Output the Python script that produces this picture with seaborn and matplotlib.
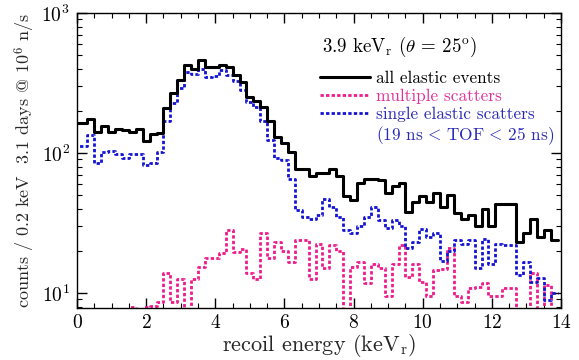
import numpy as np
import pandas as pd
import matplotlib
matplotlib.use("Agg")
import matplotlib.pyplot as plt
from matplotlib.lines import Line2D
from matplotlib.ticker import MultipleLocator, LogLocator, NullFormatter
import seaborn as sns

# bin centres (keV_r), 0.2 keV bins
bin_centers = [round(0.2 * i, 1) for i in range(70)]
bin_edges = [round(0.2 * i - 0.1, 2) for i in range(71)]

all_elastic = [165, 165, 175, 142, 155, 142, 148, 146, 142, 149,
               122, 137, 139, 208, 270, 332, 423, 397, 458, 408,
               410, 425, 412, 361, 319, 252, 235, 213, 168, 130,
               117, 102, 77, 77, 68, 72, 72, 77, 68, 49,
               46, 61, 65, 65, 64, 52, 58, 61, 38, 45,
               49, 45, 52, 41, 50, 37, 34, 36, 30, 40,
               30, 43, 43, 43, 23, 27, 34, 25, 28, 24]

single_elastic = [113, 113, 135, 85, 102, 104, 99, 92, 99, 99,
                  82, 85, 102, 168, 226, 290, 381, 367, 397, 351,
                  355, 391, 361, 329, 282, 232, 214, 168, 124, 92,
                  89, 65, 39, 35, 34, 36, 47, 41, 35, 28,
                  27, 30, 35, 41, 33, 29, 33, 30, 21, 23,
                  28.5, 25, 27, 17, 20, 24, 22.5, 24, 15, 24.5,
                  16, 22.5, 22, 22, 13.5, 16.7, 12, 12.8, 8.9, 10]

multiple_scatters = [1, 1, 1, 1, 1, 1, 1, 1, 7.9, 1,
                     7.9, 8.1, 8.7, 13.8, 8.7, 12.7, 1, 12.7, 15.4, 17.7,
                     17.7, 19.2, 28, 19.6, 20.7, 13.8, 12.7, 27, 17.7, 23,
                     20, 16.7, 24, 24, 12.7, 22.5, 15, 22, 20, 1,
                     15.4, 16.7, 11.7, 16.2, 15, 9.6, 16, 22, 13, 16,
                     12, 9.6, 14.6, 14.8, 21, 9.6, 8.7, 10.8, 11, 11.7,
                     9.6, 9.6, 10.8, 10.8, 1, 1, 13.8, 1, 11.5, 1]

legend_labels = ["all elastic events", "multiple scatters", "single elastic scatters"]
tof_note = r"(19 ns$\,{<}\,$TOF$\,{<}\,$25 ns)"
title_note = r"3.9 keV$_\mathrm{r}$ ($\theta$ = 25$^\mathrm{o}$)"

df = pd.DataFrame({
    "energy": bin_centers,
    "all": all_elastic,
    "single": single_elastic,
    "multiple": multiple_scatters,
})

sns.set_theme(style="ticks")
plt.rcParams.update({
    "font.family": ["cmr10", "DejaVu Serif"],
    "mathtext.fontset": "cm",
    "axes.formatter.use_mathtext": True,
    "axes.unicode_minus": False,
    "axes.edgecolor": "black",
    "axes.linewidth": 1.0,
    "xtick.color": "black",
    "ytick.color": "black",
})

BLACK = "black"
PINK = "#ec1c8c"
BLUE = "#1414d2"
DASH = (0, (1.2, 0.8))

fig = plt.figure(figsize=(5.79, 3.6), dpi=100)
ax = fig.add_axes([0.133, 0.144, 0.836, 0.820])

sns.histplot(data=df, x="energy", weights="multiple", bins=bin_edges, element="step",
             fill=False, color=PINK, linewidth=2.0, linestyle=DASH, ax=ax)
sns.histplot(data=df, x="energy", weights="single", bins=bin_edges, element="step",
             fill=False, color=BLUE, linewidth=2.0, linestyle=DASH, ax=ax)
sns.histplot(data=df, x="energy", weights="all", bins=bin_edges, element="step",
             fill=False, color=BLACK, linewidth=2.2, ax=ax)

ax.set_yscale("log")
ax.set_xlim(0, 14)
ax.set_ylim(7.8, 1000)

ax.xaxis.set_major_locator(MultipleLocator(2))
ax.xaxis.set_minor_locator(MultipleLocator(0.5))
ax.yaxis.set_major_locator(LogLocator(base=10))
ax.yaxis.set_minor_locator(LogLocator(base=10, subs=np.arange(2, 10)))
ax.yaxis.set_minor_formatter(NullFormatter())
ax.tick_params(which="both", direction="in", top=True, right=True, labelsize=14)
ax.tick_params(which="major", length=7, width=1.0, pad=4)
ax.tick_params(which="minor", length=3.5, width=0.8)
ax.tick_params(axis="y", which="major", pad=5)

ax.set_xlabel(r"recoil energy (keV$_\mathrm{r}$)", fontsize=16, labelpad=0.5)
ax.set_ylabel(r"counts / 0.2 keV  3.1 days @ 10$^6$ n/s", fontsize=13, labelpad=3)

handles = [Line2D([], [], color=BLACK, lw=2.2),
           Line2D([], [], color=PINK, lw=2.0, ls=DASH),
           Line2D([], [], color=BLUE, lw=2.0, ls=DASH)]
leg = ax.legend(handles, legend_labels, loc="upper left", bbox_to_anchor=(0.503, 0.805),
                frameon=False, fontsize=12.4, handlelength=2.9, handletextpad=0.3,
                labelspacing=0.17, borderpad=0, borderaxespad=0,
                labelcolor=[BLACK, "#e0309a", "#2a2ab8"])
ax.text(0.618, 0.585, tof_note, transform=ax.transAxes, fontsize=12.4,
        color="#2a2ab8", ha="left", va="center")
ax.text(0.506, 0.885, title_note, transform=ax.transAxes, fontsize=13.6,
        color="black", ha="left", va="center")

fig.savefig("out.png", dpi=100)
